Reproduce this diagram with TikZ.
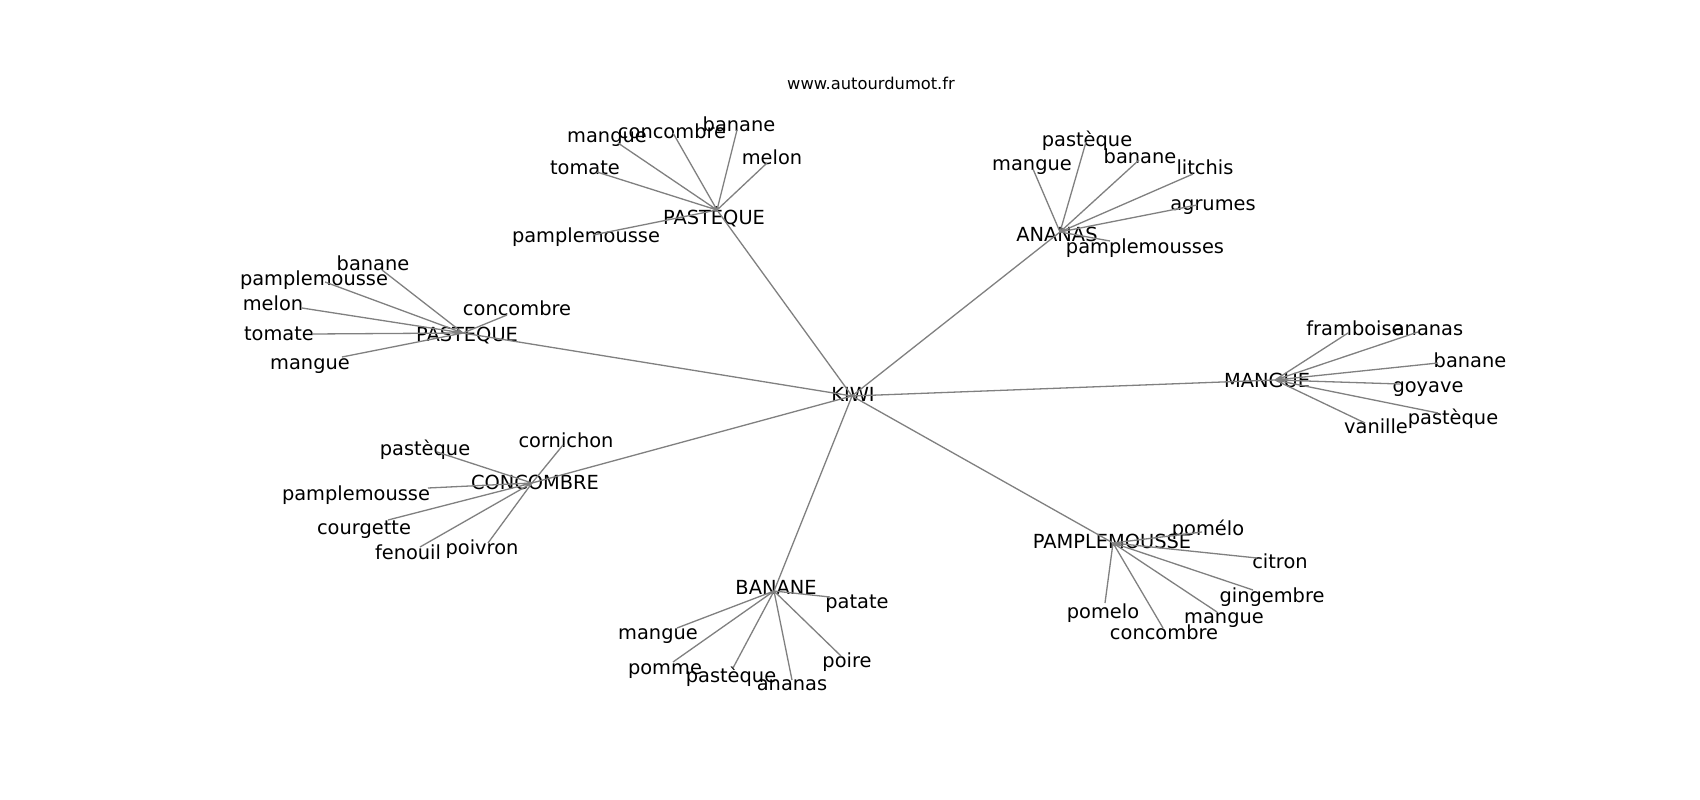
\documentclass[tikz,border=0pt]{standalone}
\usepackage{fontspec}
\setmainfont{DejaVu Sans}
\usetikzlibrary{positioning}

\begin{document}
\begin{tikzpicture}[
    % GLOBAL CFG
    x=1pt, y=-1pt,
    font=\fontsize{19.4}{23}\selectfont,
    % Styles
    word/.style={% For every fruit name
        inner sep=0pt,
        text height=19.1pt,
        text depth=4.7pt,
        },
    site/.style={% For the web address on top
        inner sep=0pt,
        font=\fontsize{16.3}{20}\selectfont,
        },
    link/.style={% Grey links between the words
        draw=gray,
        line width=1.3pt,
        }
    ]

    % Page, white
    \useasboundingbox[fill=white] (0,0) rectangle (1700,800);
    \node [site] (site) at (871,83) {www.autourdumot.fr};

    % Draw the centre and the hubs: a point where links meet, and its word
    \coordinate (kiwi) at (852,396);    \node [word] (kiwiT) at (853,394) {KIWI};
    \coordinate (pastA) at (717,210);   \node [word] (pastAT) at (714,217) {PASTÈQUE};
    \coordinate (pastB) at (463,333);   \node [word] (pastBT) at (467,334) {PASTEQUE};
    \coordinate (ananas) at (1060,232); \node [word] (ananasT) at (1057,234) {ANANAS};
    \coordinate (mangue) at (1275,380); \node [word] (mangueT) at (1267,380) {MANGUE};
    \coordinate (conc) at (532,483);    \node [word] (concT) at (535,482) {CONCOMBRE};
    \coordinate (banane) at (774,591);  \node [word] (bananeT) at (776,587) {BANANE};
    \coordinate (pamp) at (1113,543);   \node [word] (pampT) at (1112,541) {PAMPLEMOUSSE};

    % Leaves of PASTÈQUE, named pa#
    \coordinate (pa1) at (618,143); \node [word] (pa1T) at (607,135) {mangue};
    \coordinate (pa2) at (673,133); \node [word] (pa2T) at (672,131) {concombre};
    \coordinate (pa3) at (737,130); \node [word] (pa3T) at (739,124) {banane};
    \coordinate (pa4) at (767,163); \node [word] (pa4T) at (772,157) {melon};
    \coordinate (pa5) at (597,172); \node [word] (pa5T) at (585,167) {tomate};
    \coordinate (pa6) at (593,235); \node [word] (pa6T) at (586,235) {pamplemousse};

    % Leaves of PASTEQUE, named pb#
    \coordinate (pb1) at (382,270); \node [word] (pb1T) at (373,263) {banane};
    \coordinate (pb2) at (325,282); \node [word] (pb2T) at (314,278) {pamplemousse};
    \coordinate (pb3) at (302,308); \node [word] (pb3T) at (273,303) {melon};
    \coordinate (pb4) at (312,334); \node [word] (pb4T) at (279,333) {tomate};
    \coordinate (pb5) at (342,357); \node [word] (pb5T) at (310,362) {mangue};
    \coordinate (pb6) at (507,315); \node [word] (pb6T) at (517,308) {concombre};

    % Leaves of ANANAS, named an#
    \coordinate (an1) at (1033,169); \node [word] (an1T) at (1032,163) {mangue};
    \coordinate (an2) at (1086,142); \node [word] (an2T) at (1087,139) {pastèque};
    \coordinate (an3) at (1139,160); \node [word] (an3T) at (1140,156) {banane};
    \coordinate (an4) at (1193,174); \node [word] (an4T) at (1205,167) {litchis};
    \coordinate (an5) at (1197,205); \node [word] (an5T) at (1213,203) {agrumes};
    \coordinate (an6) at (1110,241); \node [word] (an6T) at (1145,246) {pamplemousses};

    % Leaves of MANGUE, named mg#
    \coordinate (mg1) at (1348,333); \node [word] (mg1T) at (1355,328) {framboise};
    \coordinate (mg2) at (1418,332); \node [word] (mg2T) at (1428,328) {ananas};
    \coordinate (mg3) at (1438,363); \node [word] (mg3T) at (1470,360) {banane};
    \coordinate (mg4) at (1400,384); \node [word] (mg4T) at (1428,385) {goyave};
    \coordinate (mg5) at (1438,413); \node [word] (mg5T) at (1453,417) {pastèque};
    \coordinate (mg6) at (1365,423); \node [word] (mg6T) at (1376,426) {vanille};

    % Leaves of CONCOMBRE, named co#
    \coordinate (co1) at (563,445); \node [word] (co1T) at (566,440) {cornichon};
    \coordinate (co2) at (437,452); \node [word] (co2T) at (425,448) {pastèque};
    \coordinate (co3) at (428,488); \node [word] (co3T) at (356,493) {pamplemousse};
    \coordinate (co4) at (388,520); \node [word] (co4T) at (364,527) {courgette};
    \coordinate (co5) at (420,547); \node [word] (co5T) at (408,552) {fenouil};
    \coordinate (co6) at (488,543); \node [word] (co6T) at (482,547) {poivron};

    % Leaves of BANANE, named ba#
    \coordinate (ba1) at (830,597); \node [word] (ba1T) at (857,601) {patate};
    \coordinate (ba2) at (677,628); \node [word] (ba2T) at (658,632) {mangue};
    \coordinate (ba3) at (673,662); \node [word] (ba3T) at (665,667) {pomme};
    \coordinate (ba4) at (733,668); \node [word] (ba4T) at (731,675) {pastèque};
    \coordinate (ba5) at (792,680); \node [word] (ba5T) at (792,683) {ananas};
    \coordinate (ba6) at (841,656); \node [word] (ba6T) at (847,660) {poire};

    % Leaves of PAMPLEMOUSSE, named pp#
    \coordinate (pp1) at (1202,532); \node [word] (pp1T) at (1208,528) {pomélo};
    \coordinate (pp2) at (1257,558); \node [word] (pp2T) at (1280,561) {citron};
    \coordinate (pp3) at (1253,590); \node [word] (pp3T) at (1272,595) {gingembre};
    \coordinate (pp4) at (1217,612); \node [word] (pp4T) at (1224,616) {mangue};
    \coordinate (pp5) at (1163,628); \node [word] (pp5T) at (1164,632) {concombre};
    \coordinate (pp6) at (1105,603); \node [word] (pp6T) at (1103,611) {pomelo};

% Start connecting all.
    % KIWI to the hubs
    \draw [link] (kiwi) -- (pastA) (kiwi) -- (pastB) (kiwi) -- (ananas) (kiwi) -- (mangue);
    \draw [link] (kiwi) -- (conc) (kiwi) -- (banane) (kiwi) -- (pamp);

    % Hubs to their leaves
    \draw [link] (pastA) -- (pa1) (pastA) -- (pa2) (pastA) -- (pa3) (pastA) -- (pa4) (pastA) -- (pa5) (pastA) -- (pa6);
    \draw [link] (pastB) -- (pb1) (pastB) -- (pb2) (pastB) -- (pb3) (pastB) -- (pb4) (pastB) -- (pb5) (pastB) -- (pb6);
    \draw [link] (ananas) -- (an1) (ananas) -- (an2) (ananas) -- (an3) (ananas) -- (an4) (ananas) -- (an5) (ananas) -- (an6);
    \draw [link] (mangue) -- (mg1) (mangue) -- (mg2) (mangue) -- (mg3) (mangue) -- (mg4) (mangue) -- (mg5) (mangue) -- (mg6);
    \draw [link] (conc) -- (co1) (conc) -- (co2) (conc) -- (co3) (conc) -- (co4) (conc) -- (co5) (conc) -- (co6);
    \draw [link] (banane) -- (ba1) (banane) -- (ba2) (banane) -- (ba3) (banane) -- (ba4) (banane) -- (ba5) (banane) -- (ba6);
    \draw [link] (pamp) -- (pp1) (pamp) -- (pp2) (pamp) -- (pp3) (pamp) -- (pp4) (pamp) -- (pp5) (pamp) -- (pp6);

\end{tikzpicture}
\end{document}
